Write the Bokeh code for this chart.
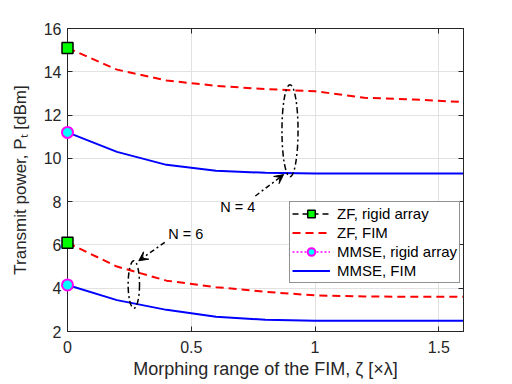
from bokeh.plotting import figure
from bokeh.models import (Range1d, FixedTicker, LinearAxis, Legend, LegendItem,
                          Arrow, VeeHead)
from bokeh.core.properties import value
from bokeh.embed import file_html
from bokeh.resources import INLINE

# ---------------- data ----------------
zeta = [0.0, 0.2, 0.4, 0.6, 0.8, 1.0, 1.2, 1.4, 1.6]
zf_fim_n4 = [15.1, 14.1, 13.6, 13.35, 13.2, 13.1, 12.8, 12.72, 12.6]
mmse_fim_n4 = [11.2, 10.3, 9.7, 9.43, 9.33, 9.3, 9.3, 9.3, 9.3]
zf_fim_n6 = [6.1, 5.0, 4.35, 4.05, 3.83, 3.67, 3.62, 3.6, 3.6]
mmse_fim_n6 = [4.15, 3.45, 3.0, 2.68, 2.54, 2.5, 2.5, 2.5, 2.5]

rigid_x = [0.0, 0.0]
zf_rigid = [15.1, 6.1]
mmse_rigid = [11.2, 4.15]

x_ticks = [0, 0.5, 1, 1.5]
x_tick_labels = ["0", "0.5", "1", "1.5"]
y_ticks = [2, 4, 6, 8, 10, 12, 14, 16]

# annotations: group ellipses, arrows and labels
ell_x = [0.899, 0.268]
ell_y = [11.28, 4.17]
ell_w = [0.065, 0.046]
ell_h = [4.25, 2.19]
arrow_tail_x = [0.759, 0.393]
arrow_tail_y = [8.26, 6.12]
arrow_head_x = [0.873, 0.288]
arrow_head_y = [9.25, 5.27]
note_x = [0.688, 0.478]
note_y = [7.73, 6.50]
note_text = ["N = 4", "N = 6"]

FONT = "Liberation Sans"
DARK = "#262626"

p = figure(width=512, height=384, output_backend="svg", toolbar_location=None,
           x_range=Range1d(0, 1.6), y_range=Range1d(2, 16))
p.min_border_left = 67
p.min_border_right = 49
p.min_border_top = 28
p.min_border_bottom = 53
p.background_fill_color = "white"
p.border_fill_color = "white"
p.outline_line_color = DARK
p.outline_line_width = 1

p.xaxis.ticker = FixedTicker(ticks=x_ticks)
p.yaxis.ticker = FixedTicker(ticks=y_ticks)
p.xaxis.major_label_overrides = {t: l for t, l in zip(x_ticks, x_tick_labels)}

for ax in (p.xaxis[0], p.yaxis[0]):
    ax.axis_line_color = DARK
    ax.major_tick_line_color = DARK
    ax.major_tick_in = 5
    ax.major_tick_out = 0
    ax.minor_tick_line_color = None
    ax.major_label_text_font = FONT
    ax.major_label_text_font_size = "16px"
    ax.major_label_text_color = DARK
    ax.axis_label_text_font = FONT
    ax.axis_label_text_font_style = "normal"
    ax.axis_label_text_color = DARK

p.xaxis.axis_label = "Morphing range of the FIM, ζ [×λ]"
p.yaxis.axis_label = "Transmit power, Pₜ [dBm]"
p.xaxis.axis_label_text_font_size = "18px"
p.yaxis.axis_label_text_font_size = "17px"
p.xaxis.major_label_standoff = 9
p.xaxis.axis_label_standoff = 3
p.yaxis.major_label_standoff = 6
p.yaxis.axis_label_standoff = 11

# top / right axes for inward ticks (no labels)
top = LinearAxis(ticker=FixedTicker(ticks=x_ticks),
                 major_label_overrides={t: "" for t in x_ticks},
                 major_tick_in=5, major_tick_out=0, minor_tick_line_color=None,
                 axis_line_color=DARK, major_tick_line_color=DARK, major_label_standoff=0)
right = LinearAxis(ticker=FixedTicker(ticks=y_ticks),
                   major_label_overrides={t: "" for t in y_ticks},
                   major_tick_in=5, major_tick_out=0, minor_tick_line_color=None,
                   axis_line_color=DARK, major_tick_line_color=DARK, major_label_standoff=0)
p.add_layout(top, "above")
p.add_layout(right, "right")

p.xgrid.grid_line_color = "#e2e2e2"
p.ygrid.grid_line_color = "#e2e2e2"

# curves
r_zf_fim = p.line(zeta, zf_fim_n4, line_color="#ff0000", line_width=2, line_dash="8 5")
p.line(zeta, zf_fim_n6, line_color="#ff0000", line_width=2, line_dash="8 5")
r_mmse_fim = p.line(zeta, mmse_fim_n4, line_color="#0000ff", line_width=2)
p.line(zeta, mmse_fim_n6, line_color="#0000ff", line_width=2)

# rigid array markers (single-point lines give the legend its line)
r_zf_rigid_line = p.line(x=rigid_x[:1], y=zf_rigid[:1], line_color="black",
                         line_width=1.5, line_dash="6 4")
r_zf_rigid = p.scatter(rigid_x, zf_rigid, marker="square", size=11,
                       fill_color="#00ff00", line_color="black", line_width=1.5,
                       level="annotation")
r_mmse_rigid_line = p.line(x=rigid_x[:1], y=mmse_rigid[:1], line_color="#ff00ff",
                           line_width=1.5, line_dash="2 2")
r_mmse_rigid = p.scatter(rigid_x, mmse_rigid, marker="circle", size=11,
                         fill_color="#00ffff", line_color="#ff00ff", line_width=2,
                         level="annotation")

# annotations
p.ellipse(x=ell_x, y=ell_y, width=ell_w, height=ell_h, fill_color=None,
          line_color="black", line_width=1.5, line_dash="6 3 2 3")
for i in range(len(arrow_tail_x)):
    p.add_layout(Arrow(end=VeeHead(size=9, fill_color="black", line_color="black", line_width=1),
                       x_start=arrow_tail_x[i], y_start=arrow_tail_y[i],
                       x_end=arrow_head_x[i], y_end=arrow_head_y[i],
                       line_color="black", line_width=1.5, line_dash="5 3 2 3"))
p.text(x=note_x, y=note_y, text=note_text, text_font=value(FONT), text_font_size="14.5px",
       text_align="center", text_baseline="middle", text_color="black")

legend = Legend(items=[
    LegendItem(label="ZF, rigid array", renderers=[r_zf_rigid_line, r_zf_rigid]),
    LegendItem(label="ZF, FIM", renderers=[r_zf_fim]),
    LegendItem(label="MMSE, rigid array", renderers=[r_mmse_rigid_line, r_mmse_rigid]),
    LegendItem(label="MMSE, FIM", renderers=[r_mmse_fim]),
], location=(222, 48))
legend.label_text_font = FONT
legend.label_text_font_size = "15px"
legend.label_text_color = "black"
legend.padding = 2
legend.spacing = 0
legend.margin = 0
legend.glyph_height = 19
legend.label_height = 19
legend.glyph_width = 38
legend.label_standoff = 7
legend.border_line_color = DARK
legend.border_line_width = 1
legend.background_fill_alpha = 1.0
p.add_layout(legend, "center")

open("out.html", "w").write(file_html(p, INLINE))
